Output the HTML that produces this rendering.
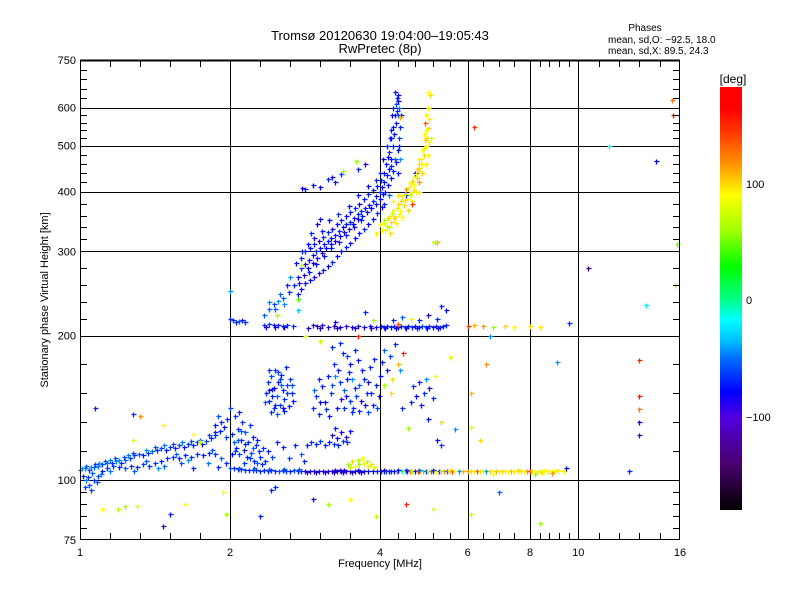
<!DOCTYPE html>
<html><head><meta charset="utf-8"><style>
body{margin:0;background:#fff;width:800px;height:600px;overflow:hidden}
svg{display:block;font-family:"Liberation Sans",sans-serif}
</style></head><body>
<svg id="chart" width="800" height="600" viewBox="0 0 800 600" xmlns="http://www.w3.org/2000/svg">
<defs>
<linearGradient id="cbar" x1="0" y1="1" x2="0" y2="0">
<stop offset="0" stop-color="#000000"/><stop offset="0.11" stop-color="#4a0070"/><stop offset="0.22" stop-color="#5000e0"/><stop offset="0.28" stop-color="#0000ff"/><stop offset="0.36" stop-color="#0070ff"/><stop offset="0.4" stop-color="#00c0ff"/><stop offset="0.45" stop-color="#00ffff"/><stop offset="0.5" stop-color="#00ff80"/><stop offset="0.575" stop-color="#00ff00"/><stop offset="0.66" stop-color="#a0ff00"/><stop offset="0.745" stop-color="#ffff00"/><stop offset="0.82" stop-color="#ff9000"/><stop offset="0.9" stop-color="#ff3000"/><stop offset="0.95" stop-color="#ff0000"/><stop offset="1" stop-color="#ff0000"/>
</linearGradient>
</defs>
<text x="380" y="40" font-size="13" text-anchor="middle">Tromsø 20120630 19:04:00–19:05:43</text>
<text x="380" y="53" font-size="13" text-anchor="middle">RwPretec (8p)</text>
<text x="645" y="31" font-size="10" text-anchor="middle">Phases</text>
<text x="608" y="43" font-size="10">mean, sd,O: −92.5, 18.0</text>
<text x="608" y="54" font-size="10">mean, sd,X:  89.5, 24.3</text>
<g id="grid"></g>
<g id="marks"></g>
<rect x="80.5" y="60.5" width="599" height="479" fill="none" stroke="#000" stroke-width="1"/>
<line x1="80" y1="60.5" x2="680" y2="60.5" stroke="#000" stroke-width="2"/>
<g id="axes"></g>
<text x="380" y="567" font-size="11" text-anchor="middle">Frequency [MHz]</text>
<text x="48" y="300" font-size="11" text-anchor="middle" transform="rotate(-90 48 300)">Stationary phase Virtual Height [km]</text>
<rect x="720" y="87" width="22" height="423" fill="url(#cbar)"/>
<text x="733" y="83" font-size="12" text-anchor="middle">[deg]</text>
<text x="746" y="188" font-size="11">100</text>
<text x="746" y="304" font-size="11">0</text>
<text x="746" y="421" font-size="11">−100</text>
</svg>
<script>
const xMajor=[1,2,4,6,8,10,16];
const xMajorLabels=["1","2","4","6","8","10","16"];
const xMinor=[1.2,1.4,1.6,1.8,2.4,2.8,3.2,3.6,4.4,4.8,5.2,5.6,6.5,7,7.5,8.4,8.8,9.2,9.6,11.2,12.4,13.6,14.8];
const xGrid=[2,4,6,8,10];
const yMajor=[75,100,200,300,400,500,600,750];
const yMajorLabels=["75","100","200","300","400","500","600","750"];
const yMinor=[80,85,90,95,120,140,160,180,220,240,260,280,320,340,360,380,420,440,460,480,520,540,560,580,630,660,690,720];
const yGrid=[100,200,300,400,500,600];
const cbStops=[-180,-140,-100,-70,-37,0,27,60,90,120,150,180];
const cbColors=["#000000","#4a0090","#0000ff","#0060ff","#00ffff","#00ff80","#00ff00","#a0ff00","#ffff00","#ff9000","#ff3000","#ff0000"];

const eTrace=[[1.00,107,-70],[1.03,108,-65],[1.06,107,-80],[1.09,109,-70],[1.12,110,-65],[1.15,111,-80],[1.18,112,-70],[1.21,112,-85],[1.24,113,-60],[1.27,112,-90],[1.30,114,-70],[1.33,115,-80],[1.36,117,-85],[1.39,118,-75],[1.42,117,-90],[1.45,119,-85],[1.48,120,-70],[1.51,121,-90],[1.54,122,-80],[1.57,121,-95],[1.60,123,-85],[1.63,122,-90],[1.66,124,-80],[1.69,123,-95],[1.72,125,-85],[1.75,124,-90],[1.78,126,-85],[1.81,125,-95],[1.84,127,-80],[1.87,129,-90],[1.90,131,-85],[1.93,134,-90],[1.96,137,-95],[1.98,142,-90],[1.97,130,-80],[1.94,140,-90],[1.90,138,-95],
[1.03,97,-80],[1.06,98,-75],[1.09,100,-85],[1.12,103,-80],[1.15,106,-90],[1.18,108,-85],[1.22,110,-80],[1.26,109,-90],[1.30,108,-75],[1.34,110,-85],[1.38,109,-90],[1.42,111,-80],[1.46,110,-90],[1.50,112,-85],[1.54,113,-90],[1.58,115,-85],[1.62,116,-90],[1.66,115,-95],[1.70,117,-90],[1.74,116,-85],[1.78,118,-90],[1.82,117,-95],[1.86,119,-90],[1.90,118,-85],[1.94,115,-70],[1.97,112,-90],[1.02,103,-90],[1.05,102,-85],[1.08,105,-70],[1.20,106,-65],[1.36,106,-70],[1.52,108,-60],[1.67,112,-75],[1.75,108,-90],[1.85,112,-65],
[1.01,108,-60],[1.04,110,-75],[1.07,109,-65],[1.10,111,-80],[1.13,112,-60],[1.17,113,-75],[1.20,114,-65],[1.23,115,-80],[1.26,114,-60],[1.29,116,-75],[1.32,117,-65],[1.35,119,-80],[1.44,121,-60],[1.50,123,-75],[1.56,124,-65],[1.62,125,-80],[1.68,126,-65],[1.74,127,-75],[1.80,128,-65],[1.86,131,-80],[1.92,144,-75],[1.04,100,-65],[1.07,96,-80],[1.11,99,-75],[1.14,104,-65],[1.44,113,-75],[1.56,110,-70],[1.64,118,-70],[1.72,114,-60],[1.88,121,-75]];
const esTrace=[[1.92,109,-90],[2.00,108,-80],[2.05,108,-90],[2.10,107.5,-85],[2.15,107.5,-90],[2.20,107,-85],[2.25,107,-90],[2.30,107,-80],[2.35,107,-90],[2.40,106.5,-85],[2.45,107,-90],[2.50,106.5,-80],[2.55,107,-90],[2.60,106.5,-85],[2.65,106,-75],[2.70,107,-90],[2.75,106.5,-85],[2.80,106,-90],[2.85,107,-80],[2.90,106.5,-90],[2.95,106,-85],[3.00,106.5,-110],[3.06,106.5,-115],[3.12,106.5,-110],[3.18,106.5,-120],[3.24,106.5,-110],[3.30,106.5,-115],[3.36,106.5,-110],[3.42,106.5,-115],[3.48,106.5,-105],[3.54,106.5,-110],[3.60,106.5,-115],[3.66,106.5,-100],[3.72,106.5,-110],[3.78,106.5,-105],[3.84,106.5,-95],[3.90,106.5,-110],[3.96,106.5,-90],[4.02,106.5,-95],[4.08,106,-90],[4.14,106.5,-70],[4.20,106,-100],[4.26,106.5,-90],[4.32,106,-110],[4.38,106.5,-60],[4.44,106,90],[4.50,106.5,-40],[4.56,106,100],[4.62,106.5,-90],[4.68,106,130],[4.74,106.5,60],[4.80,106,-95],[4.86,106.5,150],[4.92,106,110],[4.98,106.5,-40],[5.04,106,-90],[5.10,106.5,100],[5.16,106,-60],[5.22,106.5,140],[5.28,106,90],[5.34,106.5,-90],[5.40,106,60],[5.46,106.5,120],[5.52,106,-70],[5.58,106.5,100],[5.64,106,150],[5.70,106.5,90],[5.80,106,-60],[5.90,106.5,110],[6.00,106,120],[6.10,106.5,100],[6.20,106,90],[6.30,106,140],[6.40,106.5,100],[6.50,106,80],[6.60,106.5,-60],[6.70,106,100],[6.80,106,90],[6.90,106.5,110],[7.00,106,70],[7.10,106,100],[7.20,106.5,95],[7.30,106,90],[7.40,106,110],[7.50,106.5,95],[7.60,106,90],[7.70,106,100],[7.80,106.5,85],[7.90,106,120],[8.00,106.5,150],[8.10,106,100],[8.20,106,90],[8.30,105.5,80],[8.40,106,95],[8.50,105.5,100],[8.60,106,90],[8.70,106,85],[8.80,106,95],[8.90,106.5,90],[9.00,106,95],[9.20,106,90],[9.40,106.5,92],
[3.40,107,-110],[3.46,107,-120],[3.52,107,-115],[3.70,107,-110],[4.10,107,-120],[4.40,107,-100],[3.60,109,70],[3.66,110,90],[3.72,111,60],[3.78,112,95],[3.84,110,80],[3.63,113,100],[3.70,114,60],[3.76,115,90],[3.82,113,70],[3.88,111,100],[3.57,111,60],[3.92,109,80],[8.20,104,60],[6.80,104,90],
[3.03,105.5,-120],[3.15,105.5,-115],[3.27,105.5,-120],[3.39,105.5,-125],[3.51,105.5,-120],[3.63,105.5,-115],[3.75,105.5,-120],[2.12,108.5,-70],[2.32,108,-75],[2.52,107.5,-70],[2.72,107.5,-75],[2.92,107.5,-70],[4.60,107,-90],[4.90,107,-70],[5.20,107,-90],[5.60,107,100],[7.60,107,100],[8.60,107,90],[9.10,107,95],[8.90,105,120]];
const lowClouds=[[2.02,132,-90],[2.05,126,-70],[2.08,122,-90],[2.10,135,-95],[2.12,118,-80],[2.14,128,-90],[2.16,140,-85],[2.18,121,-95],[2.20,133,-70],[2.22,116,-90],[2.24,126,-85],[2.26,138,-90],[2.28,119,-80],[2.30,130,-95],[2.32,113,-90],[2.34,124,-85],[2.36,112,-70],[2.38,120,-90],[2.40,116,-85],[2.42,111,-90],[2.06,144,-85],[2.12,147,-90],[2.00,150,-80],[2.03,118,-95],
[2.48,160,-90],[2.50,168,-85],[2.52,155,-90],[2.54,172,-80],[2.56,163,-95],[2.58,150,-90],[2.60,176,-85],[2.62,158,-70],[2.64,168,-90],[2.66,152,-85],[2.68,173,-90],[2.70,162,-95],[2.72,156,-85],[2.74,178,-90],[2.76,166,-80],[2.78,151,-90],[2.80,170,-85],[2.82,160,-90],[2.84,155,-95],[2.52,176,-90],[2.58,164,-100],[2.66,170,-80],[2.72,148,-90],[2.62,146,-70],[2.54,147,-85],
[2.50,120,-90],[2.56,116,-80],[2.62,126,-95],[2.70,123,-90],[2.78,115,-85],[2.86,124,-90],[2.94,118,-70],[2.98,113,-90],[2.44,122,-85],[2.46,113,-90],
[3.02,124,-90],[3.08,126,-85],[3.14,125,-90],[3.20,127,-80],[3.26,124,-90],[3.32,126,-95],[3.38,125,-85],[3.44,124,-90],[3.50,127,-85],[3.56,126,-90],[3.36,131,-120],[3.42,129,-110],[3.48,133,-115],[3.54,130,-120],[3.60,134,-100],[3.40,136,-90],
[3.10,150,-90],[3.14,158,-85],[3.18,146,-90],[3.22,165,-95],[3.26,154,-110],[3.30,172,-90],[3.34,160,-85],[3.38,180,-90],[3.42,150,-95],[3.46,168,-85],[3.50,188,-90],[3.54,158,-100],[3.58,175,-90],[3.62,147,-85],[3.66,164,-90],[3.70,183,-95],[3.74,155,-110],[3.78,170,-90],[3.82,160,-85],[3.86,178,-90],[3.90,152,-95],[3.94,166,-90],[3.98,158,-120],[4.00,172,-100],[3.36,192,-90],[3.46,195,-85],[3.56,186,-80],[3.40,172,-60],[3.52,162,-70],[3.62,170,-60],[3.72,148,-90],[3.32,144,-95],[3.18,170,-90],[3.60,155,-85],[3.66,190,-90],[3.84,147,-80],
[3.12,162,-70],[3.20,154,-100],[3.28,149,-90],[3.36,166,-75],[3.44,176,-95],[3.52,150,-85],[3.60,180,-100],[3.68,158,-80],[3.76,176,-95],[3.84,168,-110],[3.92,184,-90],[3.96,150,-80],[3.48,156,-120],[3.56,170,-100],[3.64,150,-90],[3.72,166,-70],[3.80,152,-100],[3.88,160,-90],
[2.46,154,-75],[2.56,158,-90],[2.64,175,-80],[2.70,150,-100],[2.76,160,-85],[2.82,166,-75],[2.60,152,-90],[2.68,166,-70],[2.52,162,-100],
[2.06,120,-80],[2.14,134,-70],[2.20,125,-90],[2.26,115,-80],[2.30,122,-70],[2.36,128,-90],[2.18,112,-85],[2.10,128,-75],
[4.04,182,-90],[4.10,190,-70],[4.16,176,-100],[4.22,186,-80],[4.28,170,100],[4.34,194,-90],[4.40,180,110],[4.46,176,-60],[4.52,188,160],[4.08,166,60],[4.24,160,100],[4.76,165,-90],[4.82,158,-110],[4.88,168,-90],[4.94,152,-100],[5.00,160,-85],[5.06,170,-60],[5.12,164,-120],[5.20,157,-90],[5.26,172,90],[4.70,154,-90],[5.10,142,-100],[5.30,128,-110],[5.40,124,-90],[4.64,136,60],[4.50,150,-90],[5.40,140,100],[5.70,135,-60],[6.40,128,100],[6.10,137,80]];
const f1Trace=[[2.00,220,-90],[2.04,218,-85],[2.08,216,-90],[2.12,217,-70],[2.16,219,-90],[2.20,216,-85],[2.45,213,-90],[2.52,214,-85],[2.58,212,-110],[2.64,213,-90],[2.70,211,-95],[2.76,213,-85],[3.10,213,-110],[3.16,211,-120],[3.22,212,-115],[3.30,210,-110],[3.38,211,-120],[3.46,210,-110],[3.54,211,-115],[3.62,210,-110],[3.70,211,-100],[3.78,210,-110],[3.86,211,-105],[3.94,210,-110],[4.02,211,-100],[4.08,210,-90],[4.16,211,-95],[4.24,210,-110],[4.32,211,-90],[4.40,210,-100],[4.48,211,-90],[4.56,210,-85],[4.64,211,-95],[4.72,210,-90],[4.80,211,-100],[4.88,210,-90],[4.96,211,-80],[5.04,210,-95],[5.12,211,-90],[5.20,210,-110],[5.28,211,-90],[5.36,210,-85],[5.44,211,-95],[5.50,212,-90],[4.30,218,-90],[4.50,222,-70],[4.70,220,80],[4.90,218,-90],[5.10,224,-120],[5.30,220,-90],[3.80,228,-90],[3.90,218,60],[3.40,216,-100],[6.00,211,150],[6.20,212,110],[6.50,211,120],[6.80,210,60],[7.20,211,100],[7.50,210,90],[8.00,211,100],[8.40,210,95],[5.40,235,-90],[5.50,230,-100],
[2.48,210,-120],[2.60,210,-110],[2.72,210,-100],[2.84,211,-95],[3.04,209,-120],[3.20,209,-125],[3.42,209,-120],[3.66,209,-120],[3.88,209,-115],[4.12,209,-110],[4.36,209,-100],[4.60,209,-110],[4.84,209,-95],[5.08,209,-100],[5.32,209,-110]];
const oTrace=[[2.45,225,-70],[2.52,231,-70],[2.58,237,-80],[2.64,241,-60],[2.70,245,-70],[2.78,252,-90],[2.85,260,-90],[2.90,270,-100],[2.95,280,-95],[3.00,285,-110],[3.05,290,-100],[3.10,296,-95],[3.15,300,-90],[3.20,306,-100],[3.25,312,-95],[3.30,318,-90],[3.35,322,-100],[3.40,328,-95],[3.45,334,-90],[3.50,340,-100],[3.55,345,-95],[3.60,350,-90],[3.65,356,-100],[3.70,362,-95],[3.75,368,-90],[3.80,372,-95],[3.85,378,-100],[3.90,385,-90],[3.95,392,-95],[4.00,400,-90],[4.05,410,-100],[4.10,420,-95],[4.15,435,-90],[4.20,450,-100],[4.25,470,-95],[4.30,500,-90],[4.33,530,-100],[4.36,560,-95],[4.38,590,-90],[4.40,620,-100],[4.42,640,-95],
[2.88,286,-100],[2.94,292,-95],[3.00,300,-90],[3.06,306,-100],[3.12,312,-95],[3.18,318,-110],[3.24,324,-95],[3.30,332,-90],[3.36,338,-100],[3.42,345,-95],[3.48,352,-90],[3.54,360,-100],[3.60,366,-95],[3.66,372,-90],[3.72,380,-100],[3.78,388,-95],[3.84,396,-90],[3.90,404,-100],[3.96,412,-95],[4.02,425,-90],[4.08,440,-100],[4.14,460,-95],[4.20,485,-90],[4.26,520,-100],[4.30,550,-95],[4.34,580,-90],[4.36,610,-80],
[3.00,262,-100],[3.06,266,-95],[3.12,270,-110],[3.18,274,-100],[3.24,278,-95],[3.30,283,-100],[3.36,288,-90],[3.42,294,-95],[3.48,300,-100],[3.54,307,-90],[3.60,314,-95],[3.66,322,-100],[3.72,330,-95],[3.78,338,-90],[3.84,346,-100],[3.90,355,-95],[3.96,365,-90],[2.95,255,-100],[2.90,250,-95],[3.05,275,-90],[3.15,285,-100],[3.25,295,-95],[3.35,305,-90],[3.45,315,-100],[3.55,328,-95],[3.65,340,-100],[3.75,352,-90],
[4.12,400,-90],[4.18,415,-100],[4.24,430,-95],[4.30,445,-90],[4.36,465,-100],[4.40,490,-95],[4.44,520,-80],[4.46,550,-90],[4.48,580,-95],[4.44,600,-70],[4.38,630,-90],[4.34,650,-95],[4.28,580,-100],[4.24,540,-90],[4.46,470,-60],[4.42,440,-95],[4.10,380,-90],[4.20,395,-70],[4.04,375,-100],
[3.30,428,-90],[3.36,432,-110],[3.40,420,-95],[3.48,438,-90],[3.20,410,-100],[3.10,415,-100],[3.00,405,-95],[2.96,408,-110],[3.50,445,60],[3.16,345,-110],[3.08,330,-90],[3.20,355,-100],[2.80,270,-60],[3.70,450,-90],[3.80,460,-120],
[2.92,262,-110],[2.98,272,-120],[3.04,280,-100],[3.10,286,-115],[3.16,292,-110],[3.22,298,-120],[3.28,305,-100],[3.34,312,-110],[3.40,318,-120],[3.46,325,-105],[3.52,332,-110],[3.58,338,-120],[3.64,346,-100],[3.70,354,-110],[3.76,360,-95],[3.82,366,-110],[3.88,372,-100],[3.94,380,-95],[4.00,388,-110],[4.06,396,-100],[2.96,300,-95],[3.04,312,-100],[3.12,322,-110],[3.22,334,-95],[3.32,352,-100],[3.44,362,-90],[3.58,376,-100],[3.70,395,-95],[3.84,412,-100],[3.94,425,-90],[4.00,440,-95],[4.06,470,-100],[4.16,500,-90],[4.22,520,-95],[4.30,600,-90],[4.40,580,-80],[4.44,500,-95],[4.34,470,-70],[4.26,455,-90],[4.18,475,-95],[2.72,238,-60],[2.60,232,-70],[2.52,240,-65],[2.66,250,-70],[2.76,260,-90]];
const xTrace=[[3.95,330,95],[4.05,336,90],[4.15,342,70],[4.25,350,100],[4.35,360,95],[4.45,368,90],[4.55,378,100],[4.62,388,85],[4.70,400,95],[4.78,415,90],[4.85,430,100],[4.90,445,95],[4.95,460,90],[5.00,480,100],[5.05,500,95],[5.08,520,90],[5.10,545,100],[5.12,570,95],[5.15,640,100],
[4.10,352,60],[4.20,360,95],[4.30,370,90],[4.40,380,100],[4.50,392,95],[4.60,405,120],[4.68,418,95],[4.76,432,90],[4.84,450,100],[4.90,470,95],[4.96,490,90],[5.02,515,100],[5.06,540,85],[4.00,345,90],[4.20,340,70],[4.36,348,95],[4.50,358,90],[4.64,370,100],[4.74,385,95],[4.82,400,90],[4.90,420,120],[4.96,440,100],[5.04,460,95],[5.10,480,90],[5.12,510,95],[5.16,520,80],[4.60,395,-90],[4.80,440,-100],[4.70,420,90],[4.88,460,100],[5.00,530,90],[5.05,580,95],[5.02,560,140],[4.40,395,100],[4.30,385,90],[5.10,600,80],[4.72,380,150],[4.90,400,95],[4.22,330,100],[5.20,315,80],[5.30,315,120],[5.25,316,60],
[4.08,348,80],[4.18,356,100],[4.28,364,70],[4.38,372,95],[4.48,384,100],[4.56,396,80],[4.66,410,95],[4.74,424,100],[4.82,438,85],[4.88,452,100],[4.94,470,95],[5.00,495,80],[5.04,520,100],[4.12,336,95],[4.32,356,100],[4.44,362,85],[4.58,386,95],[4.68,394,70],[4.78,404,100]];
const sparse=[[1.15,88,90],[1.25,88,70],[1.30,89,60],[1.38,89,80],[1.55,81,-130],[1.70,90,90],[1.60,86,-100],[1.95,95,90],[1.97,86,60],[2.40,85,-90],[2.55,96,-90],[2.60,97,-90],[3.10,92,-120],[3.30,90,60],[3.60,92,90],[3.95,85,70],[4.60,90,160],[5.20,88,80],[6.10,86,70],[7.00,95,-70],[8.40,82,60],[1.10,150,-90],[1.35,146,-90],[1.40,144,120],[1.55,138,90],[1.35,128,80],[1.75,132,90],[1.90,133,-90],[1.80,126,80],[2.62,225,60],[2.00,253,-60],[2.90,230,-50],[2.94,284,70],[2.90,243,40],[3.00,200,80],[3.20,196,70],[3.70,200,160],[4.40,214,140],[3.68,466,60],[4.45,575,110],[5.10,650,90],[6.20,550,150],[6.60,180,120],[6.70,200,-60],[6.10,160,110],[5.60,185,80],[9.60,215,-90],[9.10,182,-60],[10.6,280,-150],[14.0,236,-40],[14.6,466,-100],[15.5,625,130],[15.6,580,170],[15.8,312,50],[13.6,183,160],[13.6,158,170],[13.6,149,130],[13.6,140,-100],[13.6,131,-130],[11.8,500,-30],[15.7,260,60],[13.0,106,-90],[9.5,108,-100]];

const allClusters=[eTrace,esTrace,lowClouds,f1Trace,oTrace,xTrace,sparse];

const xPix=[80,230,380,467.7,530,578.3,680];
const yPix=[540,480,335.6,251.4,191.6,145.5,107.5,60];
function interp(v,dom,rng){
  if(v<=dom[0]) return rng[0]+(v-dom[0])*(rng[1]-rng[0])/(dom[1]-dom[0]);
  for(let i=0;i<dom.length-1;i++){
    if(v<=dom[i+1]) return rng[i]+(v-dom[i])*(rng[i+1]-rng[i])/(dom[i+1]-dom[i]);
  }
  const n=dom.length-1;
  return rng[n]+(v-dom[n])*(rng[n]-rng[n-1])/(dom[n]-dom[n-1]);
}
function xScale(f){return interp(f,xMajor,xPix);}
function yScale(h){return interp(h,yMajor,yPix);}
function hex(c){return [parseInt(c.substr(1,2),16),parseInt(c.substr(3,2),16),parseInt(c.substr(5,2),16)];}
function colorOf(p){
  for(let i=0;i<cbStops.length-1;i++){
    if(p<=cbStops[i+1]){
      const t=Math.max(0,(p-cbStops[i])/(cbStops[i+1]-cbStops[i]));
      const a=hex(cbColors[i]),b=hex(cbColors[i+1]);
      return 'rgb('+a.map((v,k)=>Math.round(v+(b[k]-v)*t)).join(',')+')';
    }
  }
  return cbColors[cbColors.length-1];
}
const NS='http://www.w3.org/2000/svg';
const grid=document.getElementById('grid');
const axes=document.getElementById('axes');
const marks=document.getElementById('marks');
function line(parent,x1,y1,x2,y2,name,w){
  const l=document.createElementNS(NS,'line');
  l.setAttribute('x1',x1);l.setAttribute('y1',y1);l.setAttribute('x2',x2);l.setAttribute('y2',y2);
  l.setAttribute('stroke','#000');l.setAttribute('stroke-width',w||1);
  
  
  parent.appendChild(l);
}
function text(parent,x,y,s,anchor,name){
  const t=document.createElementNS(NS,'text');
  t.setAttribute('x',x);t.setAttribute('y',y);t.setAttribute('font-size','11');t.setAttribute('text-anchor',anchor);
  t.textContent=s;
  
  
  parent.appendChild(t);
}
xGrid.forEach(f=>{const x=Math.round(xScale(f))+0.5;line(grid,x,60,x,540,'x-gridline');});
yGrid.forEach(h=>{const y=Math.round(yScale(h))+0.5;line(grid,80,y,680,y,'y-gridline');});
xMinor.forEach(f=>{const x=Math.round(xScale(f))+0.5;line(axes,x,540,x,533,'x-minor-tick');line(axes,x,60,x,67,'x-minor-tick');});
yMinor.forEach(h=>{const y=Math.round(yScale(h))+0.5;line(axes,80,y,87,y,'y-minor-tick');line(axes,680,y,673,y,'y-minor-tick');});
xMajor.forEach((f,i)=>text(axes,xScale(f),556,xMajorLabels[i],'middle','x-tick-label'));
yMajor.forEach((h,i)=>text(axes,76,yScale(h)+4,yMajorLabels[i],'end','y-tick-label'));
allClusters.forEach(cl=>cl.forEach(pt=>{
  const x=Math.round(xScale(pt[0]))+0.5,y=Math.round(yScale(pt[1]))+0.5;
  const p=document.createElementNS(NS,'path');
  p.setAttribute('d','M'+(x-2)+' '+y+'h5M'+x+' '+(y-2)+'v5');
  p.setAttribute('stroke',colorOf(pt[2]));
  p.setAttribute('stroke-width','1.3');
  p.setAttribute('fill','none');
  
  
  marks.appendChild(p);
}));
</script>
</body></html>
